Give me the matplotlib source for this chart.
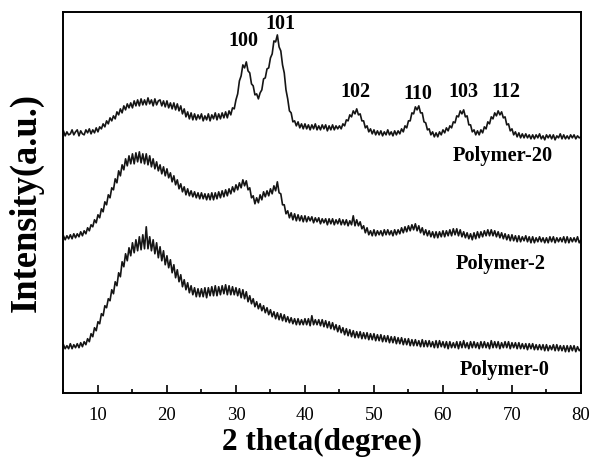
import numpy as np
import matplotlib
matplotlib.use("Agg")
import matplotlib.pyplot as plt
from matplotlib.ticker import MultipleLocator

theta_start, theta_end = 5.0, 80.0

polymer_20 = [
    262, 257, 261, 258, 259, 263, 258, 261, 263, 257, 262, 259,
    258, 263, 260, 264, 259, 263, 260, 265, 261, 266, 264, 269,
    266, 272, 269, 275, 272, 277, 274, 281, 278, 284, 280, 287,
    283, 289, 285, 290, 285, 292, 287, 293, 287, 294, 288, 293,
    288, 295, 289, 293, 287, 294, 288, 292, 293, 287, 292, 286,
    292, 285, 290, 284, 290, 283, 289, 282, 287, 279, 284, 276,
    281, 274, 280, 273, 279, 273, 278, 274, 279, 272, 277, 273,
    279, 272, 278, 274, 280, 273, 279, 274, 280, 275, 281, 275,
    282, 278, 285, 284, 293, 299, 312, 317, 328, 325, 331, 322,
    320, 309, 307, 298, 299, 294, 300, 303, 314, 315, 324, 325,
    335, 339, 352, 351, 358, 346, 342, 328, 320, 303, 294, 282,
    280, 271, 272, 267, 271, 265, 269, 264, 269, 264, 268, 263,
    268, 264, 269, 263, 267, 263, 268, 264, 268, 262, 267, 263,
    268, 263, 267, 264, 267, 264, 269, 267, 273, 272, 278, 276,
    282, 279, 284, 278, 279, 272, 272, 265, 267, 261, 264, 259,
    263, 258, 262, 258, 262, 257, 261, 258, 263, 258, 261, 257,
    262, 258, 262, 259, 264, 261, 267, 265, 272, 272, 280, 279,
    286, 283, 287, 280, 280, 271, 270, 263, 264, 258, 261, 256,
    260, 256, 261, 258, 263, 260, 265, 262, 267, 265, 271, 270,
    277, 276, 282, 279, 283, 276, 277, 268, 268, 261, 263, 258,
    262, 258, 263, 260, 266, 264, 271, 269, 276, 274, 280, 277,
    282, 278, 281, 275, 276, 268, 269, 262, 264, 258, 261, 256,
    260, 255, 259, 255, 259, 255, 258, 254, 258, 254, 258, 255,
    259, 254, 257, 253, 258, 255, 258, 254, 258, 253, 257, 255,
    259, 254, 258, 254, 257, 254, 258, 255, 258, 254, 257, 255,
    256]

polymer_2 = [
    157, 153, 157, 154, 158, 154, 159, 155, 159, 156, 161, 157,
    162, 159, 165, 162, 168, 166, 173, 170, 178, 175, 184, 181,
    191, 188, 198, 195, 205, 203, 214, 210, 222, 217, 228, 223,
    234, 227, 237, 229, 239, 229, 240, 231, 241, 230, 239, 229,
    239, 228, 237, 226, 234, 224, 231, 222, 228, 219, 226, 217,
    224, 215, 220, 211, 217, 208, 213, 204, 209, 201, 206, 198,
    204, 197, 202, 196, 201, 195, 200, 194, 200, 194, 199, 193,
    199, 193, 200, 193, 200, 194, 201, 195, 202, 196, 203, 197,
    204, 199, 206, 201, 208, 203, 210, 205, 213, 207, 212, 203,
    205, 195, 197, 189, 195, 190, 198, 193, 201, 196, 202, 197,
    204, 199, 207, 202, 211, 200, 199, 188, 188, 179, 182, 175,
    180, 173, 179, 172, 178, 172, 177, 171, 177, 171, 176, 172,
    176, 170, 175, 171, 175, 169, 174, 170, 174, 168, 174, 169,
    174, 168, 173, 169, 174, 168, 173, 168, 173, 167, 172, 168,
    177, 167, 173, 167, 171, 164, 167, 160, 165, 158, 162, 157,
    163, 157, 162, 158, 162, 157, 163, 158, 163, 158, 162, 157,
    163, 158, 163, 159, 165, 160, 166, 161, 167, 162, 168, 163,
    169, 162, 167, 160, 165, 158, 163, 157, 162, 156, 161, 155,
    161, 155, 161, 156, 162, 156, 162, 157, 163, 157, 164, 158,
    164, 157, 163, 156, 161, 155, 160, 154, 159, 153, 160, 154,
    161, 155, 161, 156, 162, 157, 163, 157, 163, 157, 162, 156,
    161, 155, 160, 154, 159, 153, 158, 152, 158, 152, 157, 151,
    157, 151, 156, 152, 157, 151, 156, 150, 156, 150, 155, 151,
    156, 151, 155, 150, 155, 150, 156, 151, 156, 150, 155, 151,
    155, 151, 156, 150, 156, 150, 155, 151, 155, 151, 156, 150,
    153]

polymer_0 = [
    48, 44, 47, 44, 49, 44, 48, 45, 49, 45, 50, 46,
    51, 48, 54, 51, 59, 56, 65, 62, 71, 69, 79, 77,
    87, 85, 94, 92, 103, 99, 111, 107, 120, 116, 131, 126,
    139, 132, 145, 137, 150, 140, 153, 142, 156, 143, 158, 144,
    166, 144, 156, 142, 153, 139, 150, 135, 146, 132, 142, 128,
    137, 125, 133, 120, 128, 115, 123, 111, 118, 106, 113, 103,
    110, 100, 107, 98, 105, 96, 104, 96, 104, 96, 105, 95,
    105, 97, 106, 97, 107, 97, 106, 98, 107, 99, 108, 98,
    107, 98, 106, 98, 105, 97, 104, 95, 103, 94, 101, 91,
    97, 89, 94, 86, 91, 84, 89, 82, 87, 80, 85, 78,
    83, 76, 81, 74, 80, 73, 79, 72, 78, 71, 76, 70,
    75, 69, 74, 68, 74, 68, 73, 68, 74, 68, 74, 67,
    77, 68, 73, 68, 73, 67, 73, 66, 72, 65, 71, 64,
    70, 63, 68, 61, 67, 60, 65, 58, 64, 57, 63, 56,
    62, 55, 61, 55, 61, 54, 60, 54, 60, 53, 59, 53,
    59, 52, 58, 52, 58, 51, 57, 51, 57, 50, 56, 50,
    56, 49, 55, 49, 55, 48, 54, 48, 54, 47, 53, 47,
    53, 47, 52, 46, 53, 46, 52, 46, 52, 46, 51, 45,
    52, 45, 52, 46, 51, 45, 51, 44, 51, 45, 50, 45,
    51, 44, 51, 45, 52, 45, 50, 44, 51, 45, 51, 45,
    50, 44, 51, 45, 51, 45, 50, 44, 52, 45, 51, 45,
    51, 44, 50, 45, 51, 45, 51, 44, 50, 45, 50, 44,
    50, 44, 49, 44, 49, 43, 49, 44, 49, 43, 48, 43,
    48, 43, 48, 42, 48, 42, 47, 43, 48, 42, 48, 42,
    47, 42, 47, 41, 47, 41, 47, 42, 47, 41, 46, 42,
    44]

series_names = ["Polymer-20", "Polymer-2", "Polymer-0"]
peak_labels = ["100", "101", "102", "110", "103", "112"]
peak_x = [31.1, 36.4, 47.3, 56.3, 62.9, 69.1]
peak_y = [342, 359, 291, 289, 291, 291]
name_x = [68.6, 68.3, 69.0]
name_y = [237, 129, 23]

plt.rcParams["font.family"] = ["Liberation Serif", "DejaVu Serif"]

fig = plt.figure(figsize=(5.93, 4.59), dpi=100)
ax = fig.add_axes([0.107, 0.1445, 0.8727, 0.8295])

for vals in (polymer_20, polymer_2, polymer_0):
    x = np.linspace(theta_start, theta_end, len(vals))
    ax.plot(x, vals, color="#151515", lw=1.2)

for t, px, py in zip(peak_labels, peak_x, peak_y):
    ax.text(px, py, t, ha="center", va="bottom", fontsize=14.5, fontweight="bold")
for t, px, py in zip(series_names, name_x, name_y):
    ax.text(px, py, t, ha="center", va="center", fontsize=14.7, fontweight="bold")

ax.set_xlim(5, 80)
ax.set_ylim(0, 381)
ax.xaxis.set_major_locator(MultipleLocator(10))
ax.xaxis.set_minor_locator(MultipleLocator(5))
ax.tick_params(axis="x", which="major", direction="in", length=5.5, width=1.2,
               labelsize=13.5, pad=10, top=False)
ax.tick_params(axis="x", which="minor", direction="in", length=3.2, width=1.2, top=False)
ax.set_yticks([])
for s in ax.spines.values():
    s.set_linewidth(1.4)

ax.set_xlabel("2 theta(degree)", fontsize=22.5, fontweight="bold", labelpad=3)
ax.set_ylabel("Intensity(a.u.)", fontsize=26.3, fontweight="bold", labelpad=14)

fig.savefig("out.png", dpi=100)
